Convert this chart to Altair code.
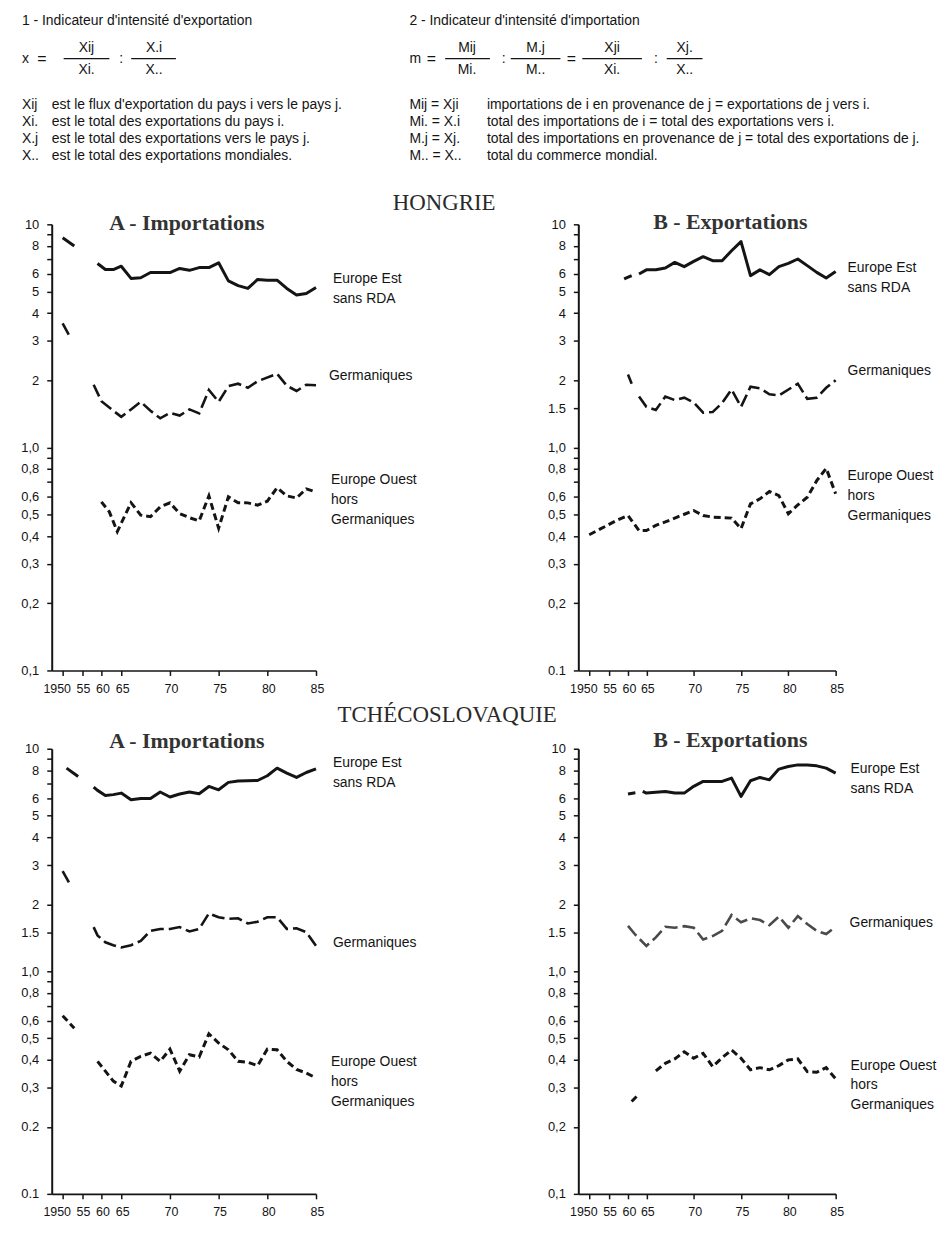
import altair as alt
import pandas as pd

# ------------------------------------------------------------------
# Values (intensity indicators, log scale)
# ------------------------------------------------------------------
# HONGRIE - A Importations
HU_IMP_EST_Y0 = [1950, 1953]
HU_IMP_EST_V0 = [8.7, 8.0]
HU_IMP_EST_Y = [1959, 1961, 1963, 1965, 1966, 1967, 1968, 1969, 1970, 1971, 1972, 1973,
                1974, 1975, 1976, 1977, 1978, 1979, 1980, 1981, 1982, 1983, 1984, 1985]
HU_IMP_EST_V = [6.67, 6.27, 6.27, 6.49, 5.72, 5.76, 6.08, 6.08, 6.08, 6.34, 6.22, 6.40,
                6.40, 6.72, 5.58, 5.31, 5.16, 5.66, 5.62, 5.62, 5.16, 4.82, 4.90, 5.21]
HU_IMP_GER_Y0 = [1950, 1952]
HU_IMP_GER_V0 = [3.6, 3.1]
HU_IMP_GER_Y = [1958, 1960, 1963, 1965, 1966, 1967, 1968, 1969, 1970, 1971, 1972, 1973,
                1974, 1975, 1976, 1977, 1978, 1979, 1981, 1982, 1983, 1984, 1985]
HU_IMP_GER_V = [1.91, 1.61, 1.46, 1.37, 1.48, 1.60, 1.46, 1.35, 1.43, 1.39, 1.48, 1.42,
                1.81, 1.60, 1.88, 1.93, 1.85, 1.98, 2.14, 1.89, 1.79, 1.91, 1.90]
HU_IMP_OUE_Y = [1960, 1962, 1964, 1966, 1967, 1968, 1969, 1970, 1971, 1972, 1973, 1974,
                1975, 1976, 1977, 1978, 1979, 1980, 1981, 1982, 1983, 1984, 1985]
HU_IMP_OUE_V = [0.570, 0.514, 0.419, 0.565, 0.497, 0.489, 0.541, 0.564, 0.505, 0.484, 0.468, 0.606,
                0.434, 0.600, 0.565, 0.564, 0.551, 0.574, 0.659, 0.606, 0.593, 0.652, 0.631]

# HONGRIE - B Exportations
HU_EXP_EST_Y0 = [1959, 1961]
HU_EXP_EST_V0 = [5.69, 5.89]
HU_EXP_EST_Y = [1963, 1965, 1966, 1967, 1968, 1969, 1970, 1971, 1972, 1973, 1974,
                1975, 1976, 1977, 1978, 1979, 1980, 1981, 1982, 1983, 1984, 1985]
HU_EXP_EST_V = [5.99, 6.25, 6.26, 6.37, 6.75, 6.46, 6.82, 7.16, 6.87, 6.87, 7.61,
                8.37, 5.89, 6.25, 5.95, 6.46, 6.68, 6.99, 6.53, 6.09, 5.75, 6.14]
HU_EXP_GER_Y0 = [1960, 1961]
HU_EXP_GER_V0 = [2.12, 1.93]
HU_EXP_GER_Y = [1963, 1965, 1966, 1967, 1968, 1969, 1970, 1971, 1972, 1973, 1974,
                1975, 1976, 1977, 1978, 1979, 1981, 1982, 1983, 1984, 1985]
HU_EXP_GER_V = [1.69, 1.52, 1.47, 1.69, 1.63, 1.67, 1.59, 1.43, 1.44, 1.58, 1.82,
                1.52, 1.87, 1.84, 1.73, 1.71, 1.93, 1.65, 1.67, 1.85, 2.00]
HU_EXP_OUE_Y = [1950, 1953, 1957, 1960, 1961, 1963, 1965, 1966, 1967, 1968, 1970, 1971, 1972,
                1974, 1975, 1976, 1977, 1978, 1979, 1980, 1981, 1982, 1983, 1984, 1985]
HU_EXP_OUE_V = [0.406, 0.432, 0.470, 0.495, 0.470, 0.424, 0.424, 0.447, 0.463, 0.482, 0.521, 0.495, 0.487,
                0.482, 0.432, 0.558, 0.588, 0.634, 0.608, 0.504, 0.552, 0.598, 0.709, 0.806, 0.619]

# TCHECOSLOVAQUIE - A Importations
CS_IMP_EST_Y0 = [1951, 1954]
CS_IMP_EST_V0 = [8.18, 7.50]
CS_IMP_EST_Y = [1958, 1959, 1961, 1963, 1965, 1966, 1967, 1968, 1969, 1970, 1971, 1972,
                1973, 1974, 1975, 1976, 1977, 1979, 1980, 1981, 1982, 1983, 1984, 1985]
CS_IMP_EST_V = [6.73, 6.50, 6.17, 6.22, 6.32, 5.90, 5.98, 5.97, 6.39, 6.07, 6.26, 6.39,
                6.28, 6.77, 6.54, 7.06, 7.16, 7.20, 7.56, 8.18, 7.77, 7.43, 7.82, 8.12]
CS_IMP_GER_Y0 = [1950, 1952]
CS_IMP_GER_V0 = [2.82, 2.44]
CS_IMP_GER_Y = [1958, 1959, 1961, 1963, 1965, 1966, 1967, 1968, 1969, 1970, 1971, 1972, 1973,
                1974, 1975, 1976, 1977, 1978, 1979, 1980, 1981, 1982, 1983, 1984, 1985]
CS_IMP_GER_V = [1.58, 1.45, 1.35, 1.31, 1.28, 1.31, 1.37, 1.52, 1.55, 1.55, 1.58, 1.51, 1.55,
                1.82, 1.75, 1.72, 1.73, 1.64, 1.67, 1.75, 1.75, 1.55, 1.56, 1.50, 1.30]
CS_IMP_OUE_Y0 = [1950, 1953]
CS_IMP_OUE_V0 = [0.632, 0.555]
CS_IMP_OUE_Y = [1959, 1961, 1963, 1965, 1966, 1967, 1968, 1969, 1970, 1971, 1972, 1973,
                1974, 1975, 1976, 1977, 1978, 1979, 1980, 1981, 1982, 1983, 1984, 1985]
CS_IMP_OUE_V = [0.394, 0.356, 0.321, 0.305, 0.394, 0.415, 0.429, 0.394, 0.447, 0.356, 0.422, 0.412,
                0.524, 0.476, 0.444, 0.394, 0.390, 0.377, 0.447, 0.444, 0.394, 0.362, 0.349, 0.332]

# TCHECOSLOVAQUIE - B Exportations
CS_EXP_EST_Y0 = [1960, 1962]
CS_EXP_EST_V0 = [6.26, 6.34]
CS_EXP_EST_Y = [1964, 1965, 1966, 1967, 1968, 1969, 1970, 1971, 1972, 1973, 1974,
                1975, 1976, 1977, 1978, 1979, 1980, 1981, 1982, 1983, 1984, 1985]
CS_EXP_EST_V = [6.43, 6.32, 6.37, 6.43, 6.32, 6.32, 6.78, 7.13, 7.13, 7.13, 7.38,
                6.11, 7.18, 7.43, 7.25, 8.10, 8.32, 8.46, 8.46, 8.38, 8.18, 7.77]
CS_EXP_GER_Y = [1960, 1962, 1965, 1966, 1967, 1968, 1969, 1970, 1971, 1972, 1973, 1974,
                1975, 1976, 1977, 1978, 1979, 1980, 1981, 1982, 1983, 1984, 1985]
CS_EXP_GER_V = [1.60, 1.46, 1.30, 1.42, 1.585, 1.57, 1.595, 1.57, 1.39, 1.44, 1.52, 1.79,
                1.66, 1.73, 1.70, 1.61, 1.76, 1.57, 1.77, 1.63, 1.52, 1.47, 1.585]
CS_EXP_OUE_Y0 = [1961, 1963]
CS_EXP_OUE_V0 = [0.260, 0.281]
CS_EXP_OUE_Y = [1966, 1967, 1968, 1969, 1970, 1971, 1972, 1973, 1974, 1975,
                1976, 1977, 1978, 1979, 1980, 1981, 1982, 1983, 1984, 1985]
CS_EXP_OUE_V = [0.357, 0.386, 0.404, 0.435, 0.407, 0.428, 0.373, 0.409, 0.443, 0.407,
                0.361, 0.369, 0.361, 0.377, 0.400, 0.404, 0.354, 0.352, 0.369, 0.329]

# axis ticks
X_TICKS = [1950, 1955, 1960, 1965, 1970, 1975, 1980, 1985]
Y_TICKS = [10, 9, 8, 7, 6, 5, 4, 3, 2, 1, 0.9, 0.8, 0.7, 0.6, 0.5, 0.4, 0.3, 0.2, 0.1]
Y_LABELS_BASE = [(10, "10"), (8, "8"), (6, "6"), (5, "5"), (4, "4"), (3, "3"), (2, "2"),
                 (1, "1,0"), (0.8, "0,8"), (0.6, "0,6"), (0.5, "0,5"), (0.4, "0,4"),
                 (0.3, "0,3"), (0.2, "0,2"), (0.1, "0,1")]

LBL_EST = "Europe Est\nsans RDA"
LBL_GER = "Germaniques"
LBL_OUE = "Europe Ouest\nhors\nGermaniques"

# ------------------------------------------------------------------
# Styling / layout
# ------------------------------------------------------------------
SANS = "'Liberation Sans', Arial, sans-serif"
SERIF = "'Liberation Serif', 'DejaVu Serif', 'Times New Roman', serif"
INK = "#141414"

X_DOMAIN = [1947, 1950, 1960, 1965, 1985]
X_RANGE_A = [0, 11, 50, 70, 266]
X_RANGE_B = [0, 11, 50, 68.5, 259]

H1, H2 = 449, 448
WA, WB, GAP = 486, 353, 44
ROW_GAP = 78.8
HEADER_H = 134.9
OX, OY = 52, 8  # header origin in page pixels

DUMMY = pd.DataFrame({"k": [0]})


def build(parts):
    rows = []
    for seg, years, vals in parts:
        for yr, v in zip(years, vals):
            rows.append({"year": yr, "value": v, "seg": seg})
    return pd.DataFrame(rows)


def make_x(rng):
    return alt.X(
        "year:Q",
        scale=alt.Scale(domain=X_DOMAIN, range=rng, nice=False, zero=False),
        axis=alt.Axis(values=X_TICKS,
                      labelExpr="datum.value == 1950 ? '1950' : '' + (datum.value % 100)",
                      labelOffset={"condition": {"test": "datum.value == 1950", "value": -6},
                                   "value": 1},
                      title=None, grid=False, tickSize=5, tickWidth=1.5, domainWidth=1.6,
                      labelFlush=False, labelOverlap=False, labelPadding=7,
                      labelFont=SANS, labelFontSize=12.5, labelColor=INK,
                      tickColor=INK, domainColor=INK))


def make_y(labels, extra=()):
    ticks = sorted(list(Y_TICKS) + list(extra), reverse=True)
    expr = " : ".join(f"abs(datum.value - {v}) < 1e-6 ? '{s}'" for v, s in labels) + " : ''"
    return alt.Y(
        "value:Q",
        scale=alt.Scale(type="log", domain=[0.1, 10], nice=False),
        axis=alt.Axis(values=ticks, labelExpr=expr, title=None, grid=False,
                      tickSize=5, tickWidth=1.5, domainWidth=2, labelPadding=8,
                      labelFont=SANS, labelFontSize=13, labelColor=INK,
                      tickColor=INK, domainColor=INK, labelOverlap=False, labelFlush=False))


def line_layers(x, y, est, ger, oue, ger_color=INK):
    est_l = alt.Chart(build(est)).mark_line(color=INK, strokeWidth=3, strokeCap="butt",
                                              strokeJoin="round").encode(x=x, y=y, detail="seg:N")
    ger_l = alt.Chart(build(ger)).mark_line(color=ger_color, strokeWidth=2.6, strokeDash=[13, 5],
                                              strokeCap="butt").encode(x=x, y=y, detail="seg:N")
    oue_l = alt.Chart(build(oue)).mark_line(color=INK, strokeWidth=3, strokeDash=[7, 4],
                                              strokeCap="butt").encode(x=x, y=y, detail="seg:N")
    return [est_l, ger_l, oue_l]


def series_label(text, px, v, y):
    df = pd.DataFrame({"value": [v]})
    return alt.Chart(df).mark_text(text=text, lineBreak="\n", align="left", baseline="top",
                                   dy=-8, font=SANS, fontSize=14, lineHeight=20,
                                   color=INK).encode(x=alt.value(px), y=y)


def free_text(text, px, py, font=SANS, size=14, weight="normal", align="left", color=INK):
    return alt.Chart(DUMMY).mark_text(text=text, align=align, baseline="middle", font=font,
                                      fontSize=size, fontWeight=weight,
                                      color=color).encode(x=alt.value(px), y=alt.value(py))


def panel(x, y, lines, labels, title, title_x, title_y, width, height, country=None):
    layers = list(lines) + [series_label(t, px, v, y) for t, px, v in labels]
    layers.append(free_text(title, title_x, title_y, font=SERIF, size=22, weight="bold",
                            align="center", color="#333333"))
    if country:
        ctext, cx, cy = country
        layers.append(free_text(ctext, cx, cy, font=SERIF, size=23, align="center",
                                color="#2a2a2a"))
    return alt.layer(*layers).properties(width=width, height=height)


# ------------------------------------------------------------------
# Header (definitions of the indicators)
# ------------------------------------------------------------------
def h_text(text, ax, ay, align="left", size=14):
    return free_text(text, ax - OX, ay - OY, size=size, align=align)


def h_bar(ax1, ax2, ay):
    return alt.Chart(DUMMY).mark_rule(color=INK, strokeWidth=1.3).encode(
        x=alt.value(ax1 - OX), x2=alt.value(ax2 - OX), y=alt.value(ay - OY))


F, NUM, DEN = 55, 44, 66
ROWS = [102, 119, 136, 153]
RX, RT = 412, 490
LEFT_SYM = ["Xij", "Xi.", "X.j", "X.."]
LEFT_TXT = ["est le flux d'exportation du pays i vers le pays j.",
            "est le total des exportations du pays i.",
            "est le total des exportations vers le pays j.",
            "est le total des exportations mondiales."]
RIGHT_SYM = ["Mij = Xji", "Mi. = X.i", "M.j = Xj.", "M.. = X.."]
RIGHT_TXT = ["importations de i en provenance de j = exportations de j vers i.",
             "total des importations de i = total des exportations vers i.",
             "total des importations en provenance de j = total des exportations de j.",
             "total du commerce mondial."]

hl = [alt.Chart(DUMMY).mark_rect(opacity=0).encode(
    x=alt.value(8 - OX), x2=alt.value(937 - OX), y=alt.value(0), y2=alt.value(HEADER_H))]
hl.append(h_text("1 - Indicateur d'intensité d'exportation", 22, 17))
hl.append(h_text("2 - Indicateur d'intensité d'importation", RX, 17))
# left formula
hl += [h_text("x", 22, F), h_text("=", 42, F, align="center", size=16),
       h_bar(64, 110, F), h_text("Xij", 87, NUM, "center"), h_text("Xi.", 87, DEN, "center"),
       h_text(":", 122, F, "center"),
       h_bar(132, 177, F), h_text("X.i", 155, NUM, "center"), h_text("X..", 155, DEN, "center")]
# right formula
hl += [h_text("m", RX, F), h_text("=", RX + 22, F, align="center", size=16),
       h_bar(448, 493, F), h_text("Mij", 470, NUM, "center"), h_text("Mi.", 470, DEN, "center"),
       h_text(":", 507, F, "center"),
       h_bar(514, 564, F), h_text("M.j", 539, NUM, "center"), h_text("M..", 539, DEN, "center"),
       h_text("=", 575, F, align="center", size=16),
       h_bar(586, 646, F), h_text("Xji", 616, NUM, "center"), h_text("Xi.", 616, DEN, "center"),
       h_text(":", 660, F, "center"),
       h_bar(671, 707, F), h_text("Xj.", 689, NUM, "center"), h_text("X..", 689, DEN, "center")]
for ry, s, t in zip(ROWS, LEFT_SYM, LEFT_TXT):
    hl += [h_text(s, 22, ry), h_text(t, 52, ry)]
for ry, s, t in zip(ROWS, RIGHT_SYM, RIGHT_TXT):
    hl += [h_text(s, RX, ry), h_text(t, RT, ry)]

header = alt.layer(*hl).properties(width=885, height=HEADER_H)

# ------------------------------------------------------------------
# Panels
# ------------------------------------------------------------------
xa, xb = make_x(X_RANGE_A), make_x(X_RANGE_B)

y_hu_a = make_y(Y_LABELS_BASE)
y_hu_b = make_y([p if p[0] != 0.1 else (0.1, "0.1") for p in Y_LABELS_BASE] + [(1.5, "1.5")], [1.5])
y_cs_a = make_y([p if p[0] not in (0.1, 0.2) else (p[0], p[1].replace(",", ".")) for p in Y_LABELS_BASE]
                + [(1.5, "1.5")], [1.5])
y_cs_b = make_y(Y_LABELS_BASE + [(1.5, "1.5")], [1.5])

hu_a = panel(
    xa, y_hu_a,
    line_layers(xa, y_hu_a,
                [("e0", HU_IMP_EST_Y0, HU_IMP_EST_V0), ("e1", HU_IMP_EST_Y, HU_IMP_EST_V)],
                [("g0", HU_IMP_GER_Y0, HU_IMP_GER_V0), ("g1", HU_IMP_GER_Y, HU_IMP_GER_V)],
                [("o1", HU_IMP_OUE_Y, HU_IMP_OUE_V)]),
    [(LBL_EST, 283, 5.62), (LBL_GER, 279, 2.07), (LBL_OUE, 281, 0.706)],
    "A - Importations", 136, -1.7, WA, H1, country=("HONGRIE", 395, -21.7))

hu_b = panel(
    xb, y_hu_b,
    line_layers(xb, y_hu_b,
                [("e0", HU_EXP_EST_Y0, HU_EXP_EST_V0), ("e1", HU_EXP_EST_Y, HU_EXP_EST_V)],
                [("g0", HU_EXP_GER_Y0, HU_EXP_GER_V0), ("g1", HU_EXP_GER_Y, HU_EXP_GER_V)],
                [("o1", HU_EXP_OUE_Y, HU_EXP_OUE_V)]),
    [(LBL_EST, 271, 6.31), (LBL_GER, 271, 2.17), (LBL_OUE, 271, 0.735)],
    "B - Exportations", 153, -2.4, WB, H1)

cs_a = panel(
    xa, y_cs_a,
    line_layers(xa, y_cs_a,
                [("e0", CS_IMP_EST_Y0, CS_IMP_EST_V0), ("e1", CS_IMP_EST_Y, CS_IMP_EST_V)],
                [("g0", CS_IMP_GER_Y0, CS_IMP_GER_V0), ("g1", CS_IMP_GER_Y, CS_IMP_GER_V)],
                [("o0", CS_IMP_OUE_Y0, CS_IMP_OUE_V0), ("o1", CS_IMP_OUE_Y, CS_IMP_OUE_V)]),
    [(LBL_EST, 283, 8.55), (LBL_GER, 283, 1.33), (LBL_OUE, 281, 0.387)],
    "A - Importations", 136, -7.8, WA, H2, country=("TCHÉCOSLOVAQUIE", 398, -33.5))

cs_b = panel(
    xb, y_cs_b,
    line_layers(xb, y_cs_b,
                [("e0", CS_EXP_EST_Y0, CS_EXP_EST_V0), ("e1", CS_EXP_EST_Y, CS_EXP_EST_V)],
                [("g1", CS_EXP_GER_Y, CS_EXP_GER_V)],
                [("o0", CS_EXP_OUE_Y0, CS_EXP_OUE_V0), ("o1", CS_EXP_OUE_Y, CS_EXP_OUE_V)],
                ger_color="#4a4a4a"),
    [(LBL_EST, 274, 8.04), (LBL_GER, 273, 1.63), (LBL_OUE, 274, 0.373)],
    "B - Exportations", 153, -8.3, WB, H2)

grid = alt.concat(hu_a, hu_b, cs_a, cs_b, columns=2,
                  spacing={"row": ROW_GAP, "column": GAP}, bounds="flush")

chart = (
    alt.vconcat(header, grid, spacing=ROW_GAP, bounds="flush")
    .properties(padding=0, background="white")
    .configure_view(strokeWidth=0)
)

chart.save("out.html", embed_options={"renderer": "svg", "actions": False})
